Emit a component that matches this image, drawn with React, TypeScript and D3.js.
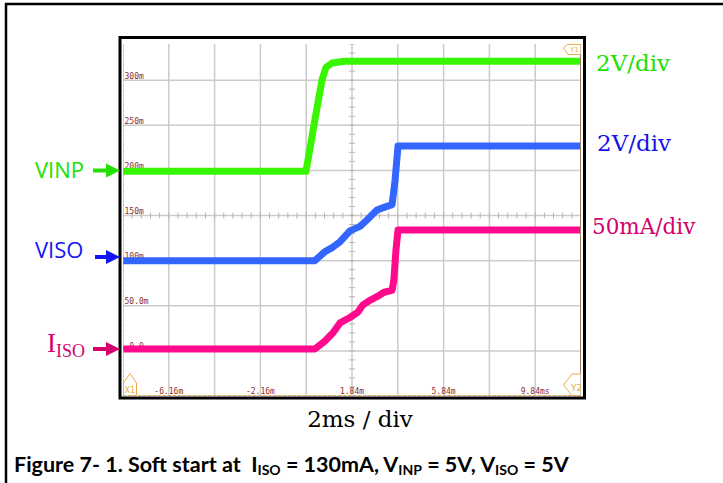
import React from 'react';
import * as d3 from 'd3';

const xDomain = [-8.16, 11.84];
const yDomain = [-50, 350];
const xTickVals = [-6.16, -2.16, 1.84, 5.84, 9.84];
const xTickLabels = ['-6.16m', '-2.16m', '1.84m', '5.84m', '9.84ms'];
const yTickVals = [300, 250, 200, 150, 100, 50, 0];
const yTickLabels = ['300m', '250m', '200m', '150m', '100m', '50.0m', '-0.0'];

// VINP (green)
const vinpT = [-8.16, -0.17, -0.08, 0.22, 0.53, 0.7, 0.97, 1.53, 11.84];
const vinpV = [199, 199, 212, 256, 300, 314, 319, 321, 321];
// VISO (blue)
const visoT = [-8.16, 0.22, 0.66, 1.01, 1.32, 1.75, 2.19, 2.49, 2.93, 3.24, 3.59, 3.72, 3.85, 11.84];
const visoV = [100, 100, 110, 115, 121, 133, 138, 145, 156, 159, 162, 189, 227, 227];
// IISO (pink)
const iisoT = [-8.16, 0.22, 0.66, 1.01, 1.32, 1.75, 2.1, 2.32, 2.62, 2.93, 3.24, 3.59, 3.67, 3.76, 3.85, 11.84];
const iisoV = [2, 2, 11, 20, 31, 37, 43, 51, 56, 60, 65, 67, 79, 112, 134, 134];

const W = 723;
const H = 483;
const left = 123, right = 581, top = 35, bottom = 396;
const clipTop = 44;

const x = d3.scaleLinear().domain(xDomain).range([left, right]);
const y = d3.scaleLinear().domain(yDomain).range([bottom, top]);

const line = d3.line<[number, number]>().x(d => x(d[0])).y(d => y(d[1]));
const zip = (t: number[], v: number[]) => t.map((d, i) => [d, v[i]] as [number, number]);

const traces = [
  { name: 'vinp', color: '#38f500', pts: zip(vinpT, vinpV) },
  { name: 'viso', color: '#3366ff', pts: zip(visoT, visoV) },
  { name: 'iiso', color: '#ff0a8c', pts: zip(iisoT, iisoV) },
];

const gridColor = '#cbcbcb';
const labelRed = '#8b2e2e';
const orange = '#eeaa44';

const Arrow = ({ y0, color, x0 = 93 }: { y0: number; color: string; x0?: number }) => (
  <g fill={color}>
    <rect x={x0} y={y0 - 2} width={108 - x0} height={4} />
    <path d={`M106,${y0 - 7}L120,${y0}L106,${y0 + 7}Z`} />
  </g>
);

const App = () => {
  const xDivs = d3.range(11).map(k => xDomain[0] + 2 * k);
  const yDivs = d3.range(9).map(k => yDomain[0] + 50 * k);
  const cx = x(1.84);
  const cy = y(150);
  const minorX = d3.range(51).map(k => xDomain[0] + 0.4 * k);
  const minorY = d3.range(41).map(k => yDomain[0] + 10 * k);

  return (
    <svg width={W} height={H} style={{ position: 'absolute', left: 0, top: 0, background: '#fff' }}>
      <defs>
        <clipPath id="scr">
          <rect x={left} y={clipTop} width={right - left} height={bottom - clipTop} />
        </clipPath>
      </defs>
      {/* outer frame */}
      <rect x={6} y={4} width={800} height={600} fill="none" stroke="#000" strokeWidth={2.5} />

      {/* scope grid */}
      <g clipPath="url(#scr)">
        {xDivs.map(v => (
          <line key={'gx' + v} x1={x(v)} x2={x(v)} y1={top} y2={bottom} stroke={gridColor} strokeWidth={1.5} />
        ))}
        {yDivs.map(v => (
          <line key={'gy' + v} x1={left} x2={right} y1={y(v)} y2={y(v)} stroke={gridColor} strokeWidth={1.5} />
        ))}
        {minorX.map(v => (
          <line key={'mx' + v} x1={x(v)} x2={x(v)} y1={cy - 3} y2={cy + 3} stroke="#b5b5b5" strokeWidth={1} />
        ))}
        {minorY.map(v => (
          <line key={'my' + v} x1={cx - 3} x2={cx + 3} y1={y(v)} y2={y(v)} stroke="#b5b5b5" strokeWidth={1} />
        ))}
        {yTickVals.map((v, i) => (
          <text key={'yl' + v} x={left + 1.5} y={y(v) - 1.5} fontFamily="DejaVu Sans Mono" fontSize={8} fill={labelRed}>
            {yTickLabels[i]}
          </text>
        ))}
        {xTickVals.map((v, i) => (
          <text key={'xl' + v} x={x(v)} y={bottom - 2.5} textAnchor="middle" fontFamily="DejaVu Sans Mono" fontSize={8} fill={labelRed}>
            {xTickLabels[i]}
          </text>
        ))}
        {traces.map(tr => (
          <path key={tr.name} d={line(tr.pts) || ''} fill="none" stroke={tr.color} strokeWidth={7} strokeLinejoin="round" />
        ))}
        {/* cursors */}
        <line x1={left} x2={left} y1={clipTop} y2={bottom} stroke={orange} strokeWidth={1} strokeDasharray="3,2" />
        <line x1={left} x2={right} y1={bottom - 0.5} y2={bottom - 0.5} stroke={orange} strokeWidth={1} strokeDasharray="3,2" />
        <line x1={right - 0.5} x2={right - 0.5} y1={clipTop} y2={bottom} stroke="#a08060" strokeWidth={1} />
        <path d="M123.5,395L123.5,383L130,373.5L136.5,383L136.5,395" fill="#fff" stroke={orange} strokeWidth={1} />
        <text x={124.5} y={393} fontFamily="DejaVu Sans" fontSize={8} fill={orange}>X1</text>
        <path d="M580.5,374L572,374L563.5,385L572,395.5L580.5,395.5" fill="#fff" stroke={orange} strokeWidth={1} />
        <text x={571} y={391} fontFamily="DejaVu Sans" fontSize={9} fill={orange}>Y2</text>
        <path d="M580.5,44.5L567,44.5L563.5,48L568,54.5L580.5,54.5" fill="#fff" stroke={orange} strokeWidth={1} />
        <text x={570} y={52} fontFamily="DejaVu Sans" fontSize={7} fill={orange}>Y1</text>
      </g>
      {/* scope frame */}
      <rect x={120} y={37.5} width={464.5} height={360.5} fill="none" stroke="#000" strokeWidth={3} />

      {/* channel labels */}
      <text x={35} y={178} fontFamily="Open Sans" fontSize={22} fill="#22e000">VINP</text>
      <Arrow y0={170.5} color="#22e000" />
      <text x={35} y={258} fontFamily="Open Sans" fontSize={22} fill="#1414f5">VISO</text>
      <Arrow y0={257} color="#1414f5" x0={95} />
      <text x={47} y={352} fontFamily="Liberation Serif" fontSize={27} fill="#d4006e">
        I<tspan fontSize={18} dy={5}>ISO</tspan>
      </text>
      <Arrow y0={349} color="#d4006e" />

      <text x={596} y={71} fontFamily="DejaVu Serif" fontSize={23} fill="#22e000">2V/div</text>
      <text x={597} y={151} fontFamily="DejaVu Serif" fontSize={23} fill="#1414e6">2V/div</text>
      <text x={592} y={234} fontFamily="DejaVu Serif" fontSize={21.5} fill="#d4006e">50mA/div</text>

      <text x={360} y={427} textAnchor="middle" fontFamily="DejaVu Serif" fontSize={23} fill="#000">2ms / div</text>

      <text x={14} y={472} fontFamily="Lato" fontWeight="bold" fontSize={21.5} fill="#000">
        Figure 7- 1. Soft start at {'\u00a0'}I<tspan fontSize={14} dy={3}>ISO</tspan>
        <tspan dy={-3}> = 130mA, V</tspan><tspan fontSize={14} dy={3}>INP</tspan>
        <tspan dy={-3}> = 5V, V</tspan><tspan fontSize={14} dy={3}>ISO</tspan>
        <tspan dy={-3}> = 5V</tspan>
      </text>
    </svg>
  );
};

export default App;
